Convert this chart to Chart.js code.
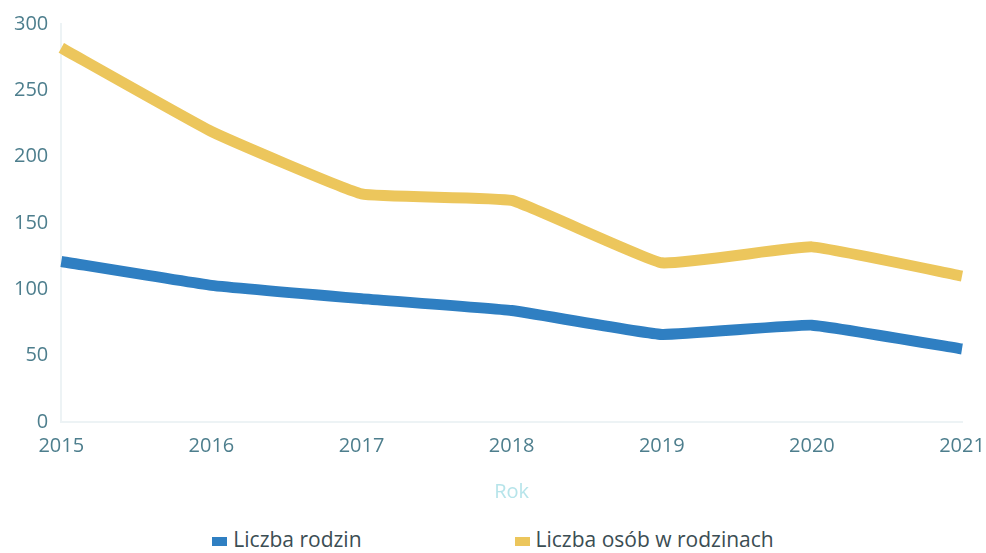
<!DOCTYPE html>
<html>
<head>
<meta charset="utf-8">
<script src="https://cdn.jsdelivr.net/npm/chart.js@4/dist/chart.umd.min.js"></script>
<style>
  body { margin: 0; background: #fff; }
  #wrap { position: relative; width: 986px; height: 508px; }
  #legenda {
    position: absolute; top: 525px; left: 0; width: 986px;
    display: flex; justify-content: center; gap: 153px;
    font-family: "Open Sans", sans-serif; font-size: 21px; color: #3b4d53;
  }
  #legenda span.box { display: inline-block; width: 15px; height: 9px; margin-right: 6px; vertical-align: middle; }
</style>
</head>
<body>
<div id="wrap"><canvas id="wykres"></canvas></div>
<div id="legenda"></div>
<script>
// dane z wykresu
var lata = ['2015', '2016', '2017', '2018', '2019', '2020', '2021'];
var liczbaRodzin = [121, 103, 93, 84, 66, 73, 55];
var liczbaOsob = [282, 219, 172, 167, 120, 132, 110];
var nazwySerii = ['Liczba rodzin', 'Liczba osób w rodzinach'];
var kolory = ['#2f7fc2', '#ecc65c'];

var wykres = new Chart(document.getElementById('wykres').getContext('2d'), {
    type: 'line',
    data: {
        labels: lata,
        datasets: [{
            label: nazwySerii[0],
            data: liczbaRodzin,
            borderColor: kolory[0],
            backgroundColor: kolory[0],
            borderWidth: 11,
            pointRadius: 0,
            tension: 0.1,
            borderJoinStyle: 'round'
        }, {
            label: nazwySerii[1],
            data: liczbaOsob,
            borderColor: kolory[1],
            backgroundColor: kolory[1],
            borderWidth: 11,
            pointRadius: 0,
            tension: 0.1,
            borderJoinStyle: 'round'
        }]
    },
    options: {
        responsive: true,
        maintainAspectRatio: false,
        animation: false,
        layout: { padding: { left: 1, right: 0, top: 24, bottom: 0 } },
        plugins: {
            legend: { display: false },
            tooltip: { enabled: false }
        },
        scales: {
            x: {
                grid: { display: false, drawTicks: false },
                border: { color: '#edf3f5', width: 2 },
                afterFit: (s) => { s.paddingRight = 24; },
                ticks: {
                    color: '#4d7e8d',
                    font: { family: 'Open Sans', size: 20 },
                    padding: 12,
                    maxRotation: 0
                },
                title: {
                    display: true,
                    text: 'Rok',
                    color: '#b6e4ea',
                    font: { family: 'Open Sans', size: 20 },
                    padding: { top: 10 }
                }
            },
            y: {
                min: 0,
                max: 300,
                grid: { display: false, drawTicks: false },
                border: { color: '#edf3f5', width: 2 },
                afterFit: (s) => { s.paddingTop = 0; },
                ticks: {
                    stepSize: 50,
                    color: '#4d7e8d',
                    font: { family: 'Open Sans', size: 20 },
                    padding: 13
                }
            }
        }
    }
});

// legenda w HTML
var legenda = document.getElementById('legenda');
nazwySerii.forEach(function (n, i) {
    var el = document.createElement('div');
    el.innerHTML = '<span class="box" style="background:' + kolory[i] + '"></span>' + n;
    legenda.appendChild(el);
});
</script>
</body>
</html>
